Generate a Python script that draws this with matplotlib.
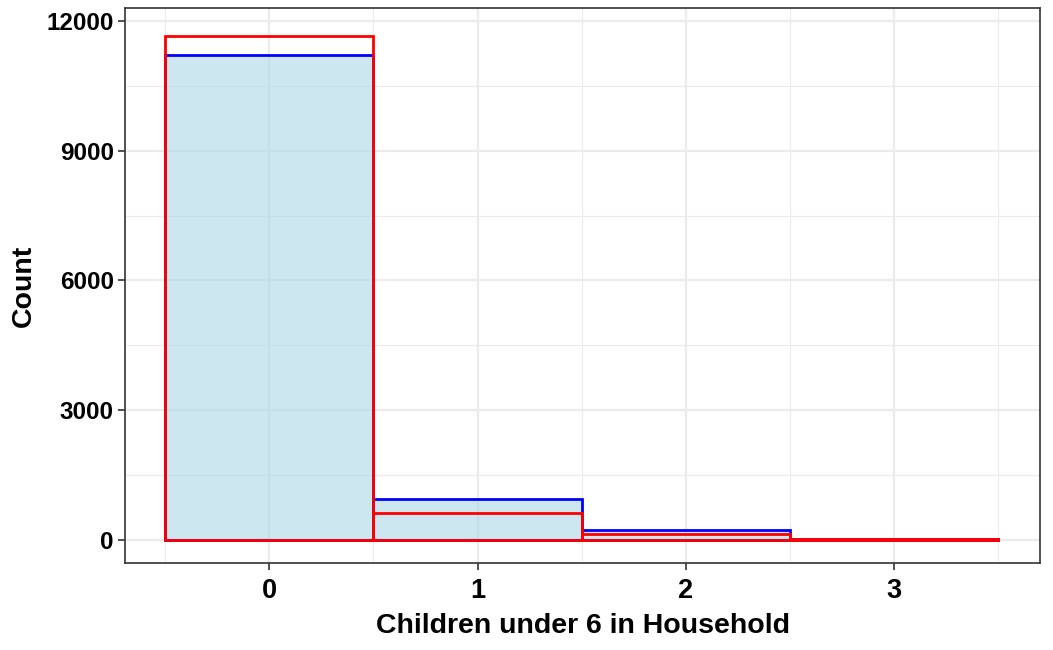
import matplotlib.pyplot as plt
import numpy as np

plt.rcParams['font.family'] = ['Liberation Sans', 'DejaVu Sans']

children = [0, 1, 2, 3]
count_blue = [11220, 945, 225, 25]
count_red = [11640, 625, 135, 15]

fig = plt.figure(figsize=(10.53, 6.5), dpi=100)
ax = fig.add_axes([0.1187, 0.1338, 0.869, 0.854])

ax.bar(children, count_blue, width=1.0, facecolor=(0.678, 0.847, 0.902, 0.6),
       edgecolor='blue', linewidth=2, zorder=3)
ax.bar(children, count_red, width=1.0, facecolor='none',
       edgecolor='red', linewidth=2, zorder=4)

ax.set_xlim(-0.692, 3.70)
ax.set_ylim(-532, 12300)
ax.set_xticks([0, 1, 2, 3])
ax.set_xticks([-0.5, 0.5, 1.5, 2.5, 3.5], minor=True)
ax.set_yticks([0, 3000, 6000, 9000, 12000])
ax.set_yticks([1500, 4500, 7500, 10500], minor=True)

ax.grid(which='major', color='#ebebeb', linewidth=1.6, zorder=0)
ax.grid(which='minor', color='#ebebeb', linewidth=0.8, zorder=0)
ax.set_axisbelow(True)

ax.tick_params(which='major', length=5, width=1.2, color='#333333')
ax.tick_params(which='minor', length=0)
ax.tick_params(axis='x', labelsize=19.5, pad=6)
ax.tick_params(axis='y', labelsize=17.5, pad=3)
for lbl in ax.get_xticklabels() + ax.get_yticklabels():
    lbl.set_fontweight('bold')
    lbl.set_color('black')

for s in ax.spines.values():
    s.set_color('#333333')
    s.set_linewidth(1.2)

ax.set_xlabel('Children under 6 in Household', fontsize=20.5, fontweight='bold', labelpad=6)
ax.set_ylabel('Count', fontsize=20.5, fontweight='bold', labelpad=7)

fig.savefig('out.png', dpi=100)
